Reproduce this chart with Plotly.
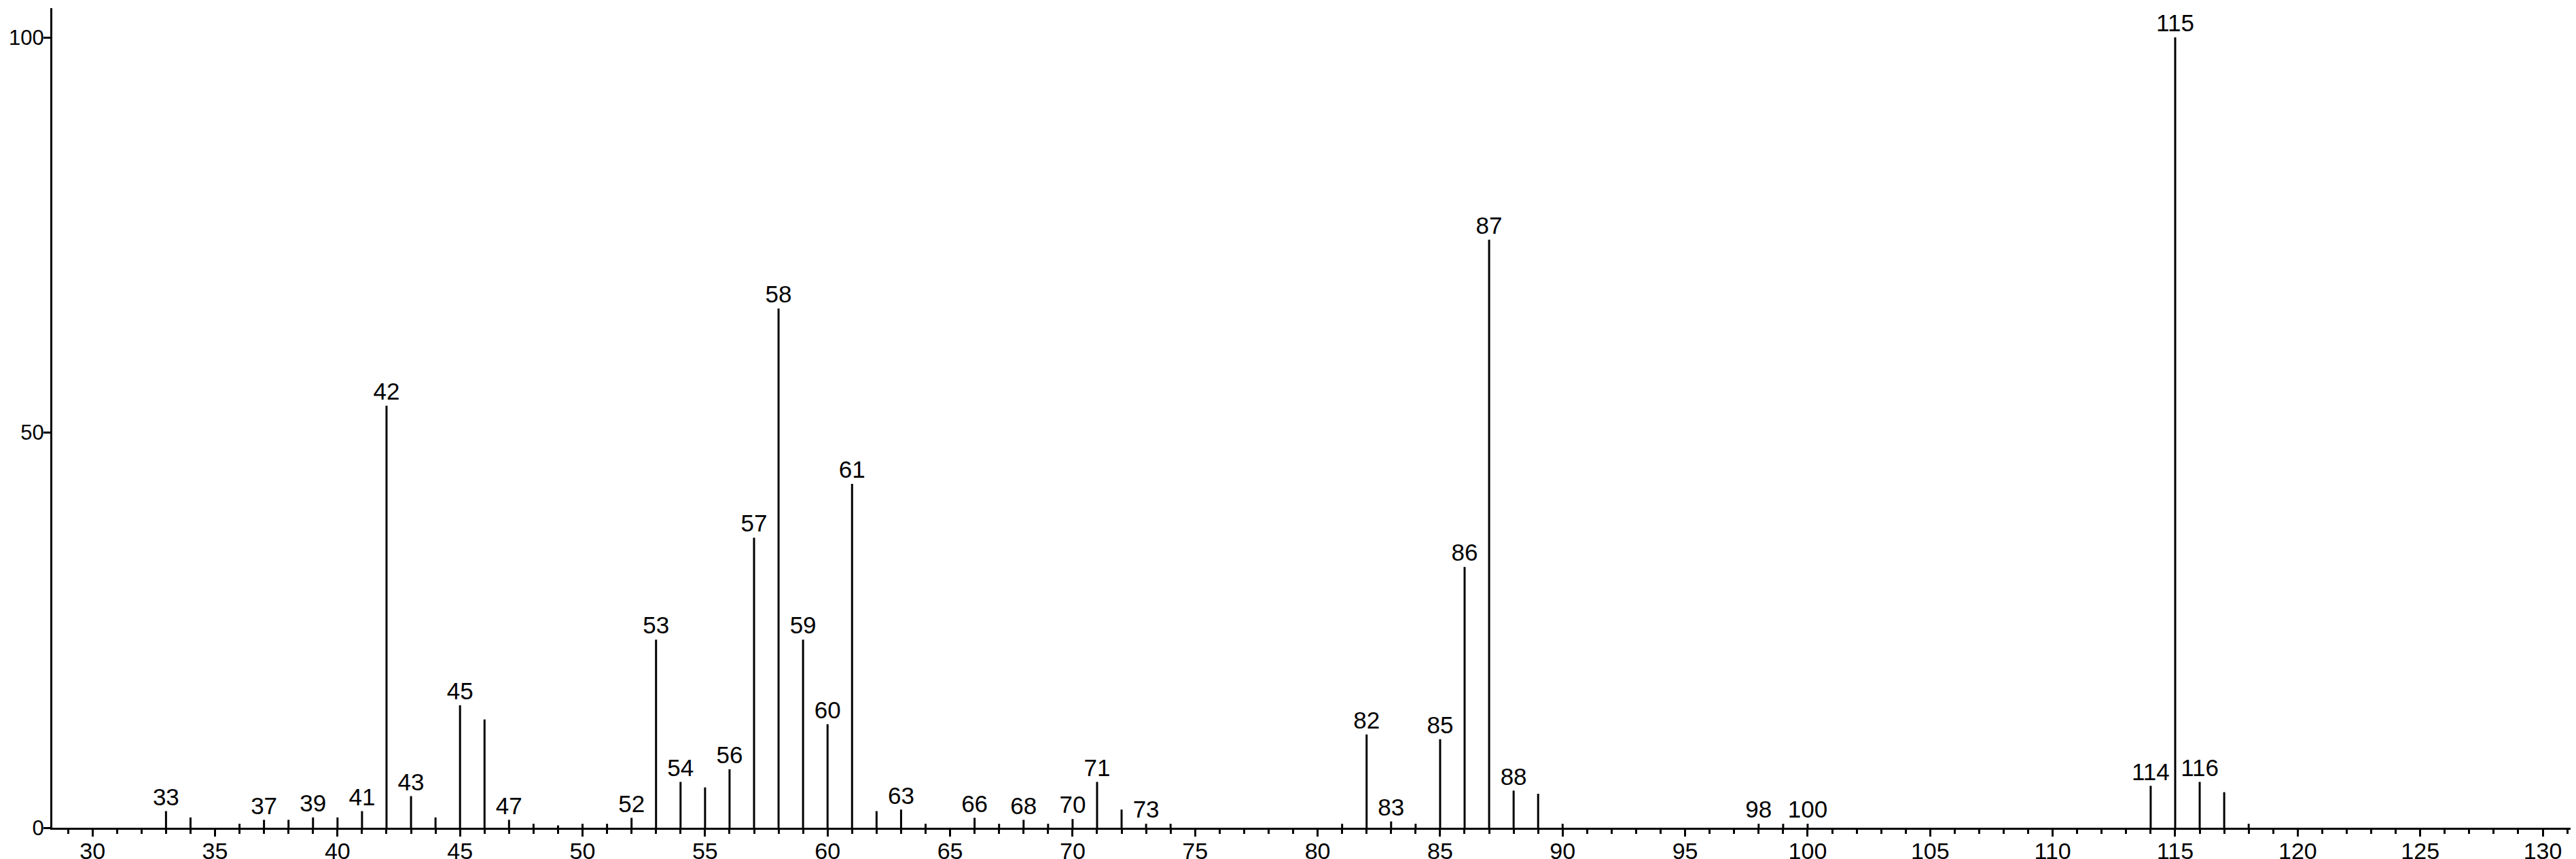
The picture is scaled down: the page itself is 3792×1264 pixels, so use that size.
import plotly.graph_objects as go

# m/z values and relative intensities
mz = [33, 34, 36, 37, 38, 39, 40, 41, 42, 43, 44, 45, 46, 47, 48, 49, 50, 51, 52,
      53, 54, 55, 56, 57, 58, 59, 60, 61, 62, 63, 64, 66, 67, 68, 69, 70, 71, 72,
      73, 74, 81, 82, 83, 84, 85, 86, 87, 88, 89, 90, 98, 99, 100, 114, 115, 116,
      117, 118]
intensity = [2.1, 1.3, 0.5, 1.0, 1.0, 1.3, 1.3, 2.1, 53.4, 4.0, 1.3, 15.5, 13.7, 1.0,
             0.5, 0.3, 0.5, 0.5, 1.25, 23.8, 5.8, 5.1, 7.4, 36.7, 65.7, 23.8, 13.1,
             43.5, 2.1, 2.3, 0.5, 1.25, 0.5, 1.0, 0.5, 1.1, 5.8, 2.3, 0.5, 0.5, 0.5,
             11.8, 0.8, 0.5, 11.2, 33.0, 74.4, 4.7, 4.3, 0.5, 0.5, 0.5, 0.5, 5.3,
             100.0, 5.8, 4.5, 0.5]
labeled = [33, 37, 39, 41, 42, 43, 45, 47, 52, 53, 54, 56, 57, 58, 59, 60, 61, 63,
           66, 68, 70, 71, 73, 82, 83, 85, 86, 87, 88, 98, 100, 114, 115, 116]
y_ticks = [0, 50, 100]

FONT = "Liberation Sans Narrow, Arial Narrow, Liberation Sans, Arial, sans-serif"

lx, ly = [], []
for m, h in zip(mz, intensity):
    lx += [m, m, None]
    ly += [0, h, None]

lookup = dict(zip(mz, intensity))
tx = labeled
ty = [lookup[m] for m in labeled]

fig = go.Figure()
fig.add_trace(go.Scatter(x=lx, y=ly, mode="lines",
                         line=dict(color="black", width=3),
                         hoverinfo="skip", showlegend=False))
fig.add_trace(go.Scatter(x=tx, y=ty, mode="text", text=[str(m) for m in tx],
                         textposition="top center",
                         textfont=dict(family=FONT, size=35, color="black"),
                         cliponaxis=False, showlegend=False))

fig.update_layout(
    width=3792, height=1264,
    margin=dict(l=69, r=0, t=4, b=54, autoexpand=False),
    paper_bgcolor="white", plot_bgcolor="white",
    font=dict(family=FONT, size=34, color="black"),
    showlegend=False,
    xaxis=dict(range=[28.36, 131.58], showgrid=False, zeroline=False,
               automargin=False,
               showline=True, linecolor="black", linewidth=3,
               ticks="outside", tickmode="linear", tick0=0, dtick=5,
               ticklen=10, tickwidth=2.5, tickcolor="black",
               ticklabelstandoff=-8,
               tickfont=dict(family=FONT, size=34, color="black"),
               minor=dict(ticks="outside", dtick=1, tick0=0, ticklen=6,
                          tickwidth=2.5, tickcolor="black", showgrid=False)),
    yaxis=dict(range=[0, 103.7], showgrid=False, zeroline=False,
               automargin=False,
               showline=True, linecolor="black", linewidth=3,
               ticks="outside", tickvals=y_ticks, ticklen=10, tickwidth=2.5,
               tickcolor="black", ticklabelstandoff=-7,
               tickfont=dict(family=FONT, size=31, color="black")),
)

fig.write_html("out.html")
